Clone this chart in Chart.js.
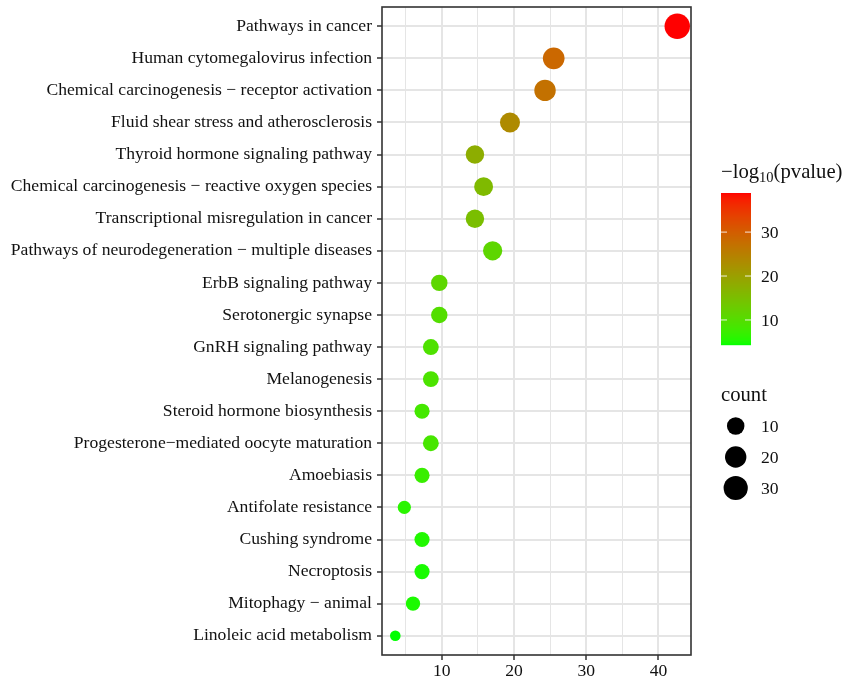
<!DOCTYPE html>
<html>
<head>
<meta charset="utf-8">
<script src="https://cdn.jsdelivr.net/npm/chart.js@4.4.1/dist/chart.umd.min.js"></script>
<style>
  body { margin: 0; background: #fff; }
  #wrap { width: 845px; height: 680px; position: relative; }
</style>
</head>
<body>
<div id="wrap"><canvas id="dotChart"></canvas></div>
<script>
// KEGG terms, top to bottom
const categories = [
    'Pathways in cancer',
    'Human cytomegalovirus infection',
    'Chemical carcinogenesis \u2212 receptor activation',
    'Fluid shear stress and atherosclerosis',
    'Thyroid hormone signaling pathway',
    'Chemical carcinogenesis \u2212 reactive oxygen species',
    'Transcriptional misregulation in cancer',
    'Pathways of neurodegeneration \u2212 multiple diseases',
    'ErbB signaling pathway',
    'Serotonergic synapse',
    'GnRH signaling pathway',
    'Melanogenesis',
    'Steroid hormone biosynthesis',
    'Progesterone\u2212mediated oocyte maturation',
    'Amoebiasis',
    'Antifolate resistance',
    'Cushing syndrome',
    'Necroptosis',
    'Mitophagy \u2212 animal',
    'Linoleic acid metabolism'
];
const xValues = [42.6, 25.5, 24.3, 19.45, 14.6, 15.8, 14.6, 17.05, 9.67, 9.67,
                 8.5, 8.5, 7.28, 8.5, 7.28, 4.83, 7.28, 7.28, 6.03, 3.58];
const counts = [35, 21, 20, 16, 12, 13, 12, 14, 8, 8, 7, 7, 6, 7, 6, 4, 6, 6, 5, 3];
const logP = [38.9, 28.5, 27.1, 23.3, 17.8, 15.7, 15, 11.2, 11, 9.8,
              9.3, 9, 8.2, 8.5, 7.2, 6, 5.4, 5, 5.1, 4.3];
const xTicks = [5, 10, 15, 20, 25, 30, 35, 40];
const colorTicks = [10, 20, 30];
const sizeBreaks = [10, 20, 30];

const FONT = '"Liberation Serif", "Times New Roman", serif';
const FS = 17.6;        // axis and legend labels
const TITLE_FS = 20.7;  // legend titles

// --- colour scale: green -> red (blend of Lab and RGB ramps, matches the picture) ---
function toLab(rgb) {
    const lin = rgb.map(c => { c /= 255; return c <= 0.04045 ? c / 12.92 : Math.pow((c + 0.055) / 1.055, 2.4); });
    let X = (0.4124 * lin[0] + 0.3576 * lin[1] + 0.1805 * lin[2]) / 0.95047;
    let Y = (0.2126 * lin[0] + 0.7152 * lin[1] + 0.0722 * lin[2]);
    let Z = (0.0193 * lin[0] + 0.1192 * lin[1] + 0.9505 * lin[2]) / 1.08883;
    const f = t => t > 0.008856 ? Math.cbrt(t) : 7.787 * t + 16 / 116;
    X = f(X); Y = f(Y); Z = f(Z);
    return [116 * Y - 16, 500 * (X - Y), 200 * (Y - Z)];
}
function fromLab(lab) {
    const fy = (lab[0] + 16) / 116, fx = fy + lab[1] / 500, fz = fy - lab[2] / 200;
    const inv = t => t * t * t > 0.008856 ? t * t * t : (t - 16 / 116) / 7.787;
    const X = inv(fx) * 0.95047, Y = inv(fy), Z = inv(fz) * 1.08883;
    const lin = [
        3.2406 * X - 1.5372 * Y - 0.4986 * Z,
        -0.9689 * X + 1.8758 * Y + 0.0415 * Z,
        0.0557 * X - 0.2040 * Y + 1.0570 * Z
    ];
    return lin.map(c => {
        c = c <= 0.0031308 ? 12.92 * c : 1.055 * Math.pow(c, 1 / 2.4) - 0.055;
        return Math.min(1, Math.max(0, c)) * 255;
    });
}
const lowRgb = [0, 255, 0], highRgb = [255, 0, 0];
const labLow = toLab(lowRgb);
const labHigh = toLab(highRgb);
const pMin = Math.min(...logP), pMax = Math.max(...logP);
function colorFor(v) {
    const t = Math.min(1, Math.max(0, (v - pMin) / (pMax - pMin)));
    const lab = labLow.map((l, i) => l + (labHigh[i] - l) * t);
    const c1 = fromLab(lab);
    const c = c1.map((c, i) => Math.round(0.5 * c + 0.5 * (lowRgb[i] + (highRgb[i] - lowRgb[i]) * t)));
    return `rgb(${c[0]},${c[1]},${c[2]})`;
}

// --- size scale: area-like, as ggplot scale_size ---
const cMin = Math.min(...counts), cMax = Math.max(...counts);
function radiusFor(c) {
    return 5.3 + 7.4 * Math.sqrt(Math.max(0, (c - cMin) / (cMax - cMin)));
}

// panel border + legends
const decorPlugin = {
    id: 'decor',
    afterDatasetsDraw(chart) {
        const { ctx, chartArea: a } = chart;
        ctx.save();
        ctx.strokeStyle = '#333';
        ctx.lineWidth = 1.6;
        ctx.strokeRect(a.left, a.top, a.right - a.left, a.bottom - a.top);
        ctx.restore();
    },
    afterDraw(chart) {
        const ctx = chart.ctx;
        ctx.save();
        ctx.fillStyle = '#111';
        ctx.textBaseline = 'alphabetic';

        // colour legend title: −log10(pvalue)
        let tx = 721;
        const ty = 178;
        ctx.font = `${TITLE_FS}px ${FONT}`;
        ctx.fillText('\u2212log', tx, ty);
        tx += ctx.measureText('\u2212log').width;
        ctx.font = `${TITLE_FS * 0.7}px ${FONT}`;
        ctx.fillText('10', tx, ty + 4);
        tx += ctx.measureText('10').width;
        ctx.font = `${TITLE_FS}px ${FONT}`;
        ctx.fillText('(pvalue)', tx, ty);

        // colour bar
        const bx = 721, bw = 30, bTop = 193, bBot = 345;
        const bh = bBot - bTop;
        for (let i = 0; i < bh; i++) {
            const v = pMin + (pMax - pMin) * (1 - (i + 0.5) / bh);
            ctx.fillStyle = colorFor(v);
            ctx.fillRect(bx, bTop + i, bw, 1.2);
        }
        ctx.strokeStyle = 'rgba(255,255,255,0.85)';
        ctx.lineWidth = 1;
        ctx.fillStyle = '#111';
        ctx.font = `${FS}px ${FONT}`;
        ctx.textBaseline = 'middle';
        colorTicks.forEach(t => {
            const y = bBot - (t - pMin) / (pMax - pMin) * bh;
            ctx.beginPath();
            ctx.moveTo(bx, y); ctx.lineTo(bx + 6, y);
            ctx.moveTo(bx + bw - 6, y); ctx.lineTo(bx + bw, y);
            ctx.stroke();
            ctx.fillText(String(t), 761, y + 1);
        });

        // size legend
        ctx.textBaseline = 'alphabetic';
        ctx.font = `${TITLE_FS}px ${FONT}`;
        ctx.fillText('count', 721, 401);
        ctx.font = `${FS}px ${FONT}`;
        ctx.textBaseline = 'middle';
        sizeBreaks.forEach((s, i) => {
            const y = 426 + i * 31;
            ctx.beginPath();
            ctx.arc(735.7, y, radiusFor(s), 0, Math.PI * 2);
            ctx.fillStyle = '#000';
            ctx.fill();
            ctx.fillStyle = '#111';
            ctx.fillText(String(s), 761, y + 1);
        });
        ctx.restore();
    }
};

const ctx = document.getElementById('dotChart').getContext('2d');
new Chart(ctx, {
    type: 'scatter',
    data: {
        datasets: [{
            data: xValues.map((x, i) => ({ x: x, y: i + 1 })),
            pointRadius: c => radiusFor(counts[c.dataIndex]),
            pointHoverRadius: c => radiusFor(counts[c.dataIndex]),
            pointBackgroundColor: c => colorFor(logP[c.dataIndex]),
            pointBorderWidth: 0,
            borderWidth: 0
        }]
    },
    plugins: [decorPlugin],
    options: {
        animation: false,
        responsive: true,
        maintainAspectRatio: false,
        devicePixelRatio: 1,
        layout: { autoPadding: false, padding: { top: 7, right: 154, left: 0, bottom: 0 } },
        plugins: {
            legend: { display: false },
            tooltip: { enabled: false }
        },
        scales: {
            x: {
                type: 'linear',
                min: 1.74,
                max: 44.5,
                afterBuildTicks: axis => { axis.ticks = xTicks.map(v => ({ value: v })); },
                afterFit: axis => {
                    axis.height = 25;
                    axis.paddingLeft = 0;
                    axis.paddingRight = 0;
                },
                border: { display: false },
                grid: {
                    color: '#E5E5E5',
                    lineWidth: c => (c.tick && c.tick.value % 10 === 0) ? 2 : 1,
                    tickColor: c => (c.tick && c.tick.value % 10 === 0) ? '#333' : 'rgba(0,0,0,0)',
                    tickWidth: 1.5,
                    tickLength: 5
                },
                ticks: {
                    autoSkip: false,
                    maxRotation: 0,
                    padding: 1,
                    color: '#111',
                    font: { family: FONT, size: FS },
                    callback: v => (v % 10 === 0 ? String(v) : '')
                }
            },
            y: {
                type: 'linear',
                reverse: true,
                min: 0.4,
                max: 20.6,
                afterBuildTicks: axis => { axis.ticks = categories.map((c, i) => ({ value: i + 1 })); },
                afterFit: axis => {
                    axis.width = 382;
                    axis.paddingTop = 0;
                    axis.paddingBottom = 0;
                },
                border: { display: false },
                grid: {
                    color: '#E5E5E5',
                    lineWidth: 2,
                    tickColor: '#333',
                    tickWidth: 1.5,
                    tickLength: 5
                },
                ticks: {
                    autoSkip: false,
                    padding: 5,
                    color: '#111',
                    font: { family: FONT, size: FS },
                    callback: v => categories[v - 1]
                }
            }
        }
    }
});
</script>
</body>
</html>
